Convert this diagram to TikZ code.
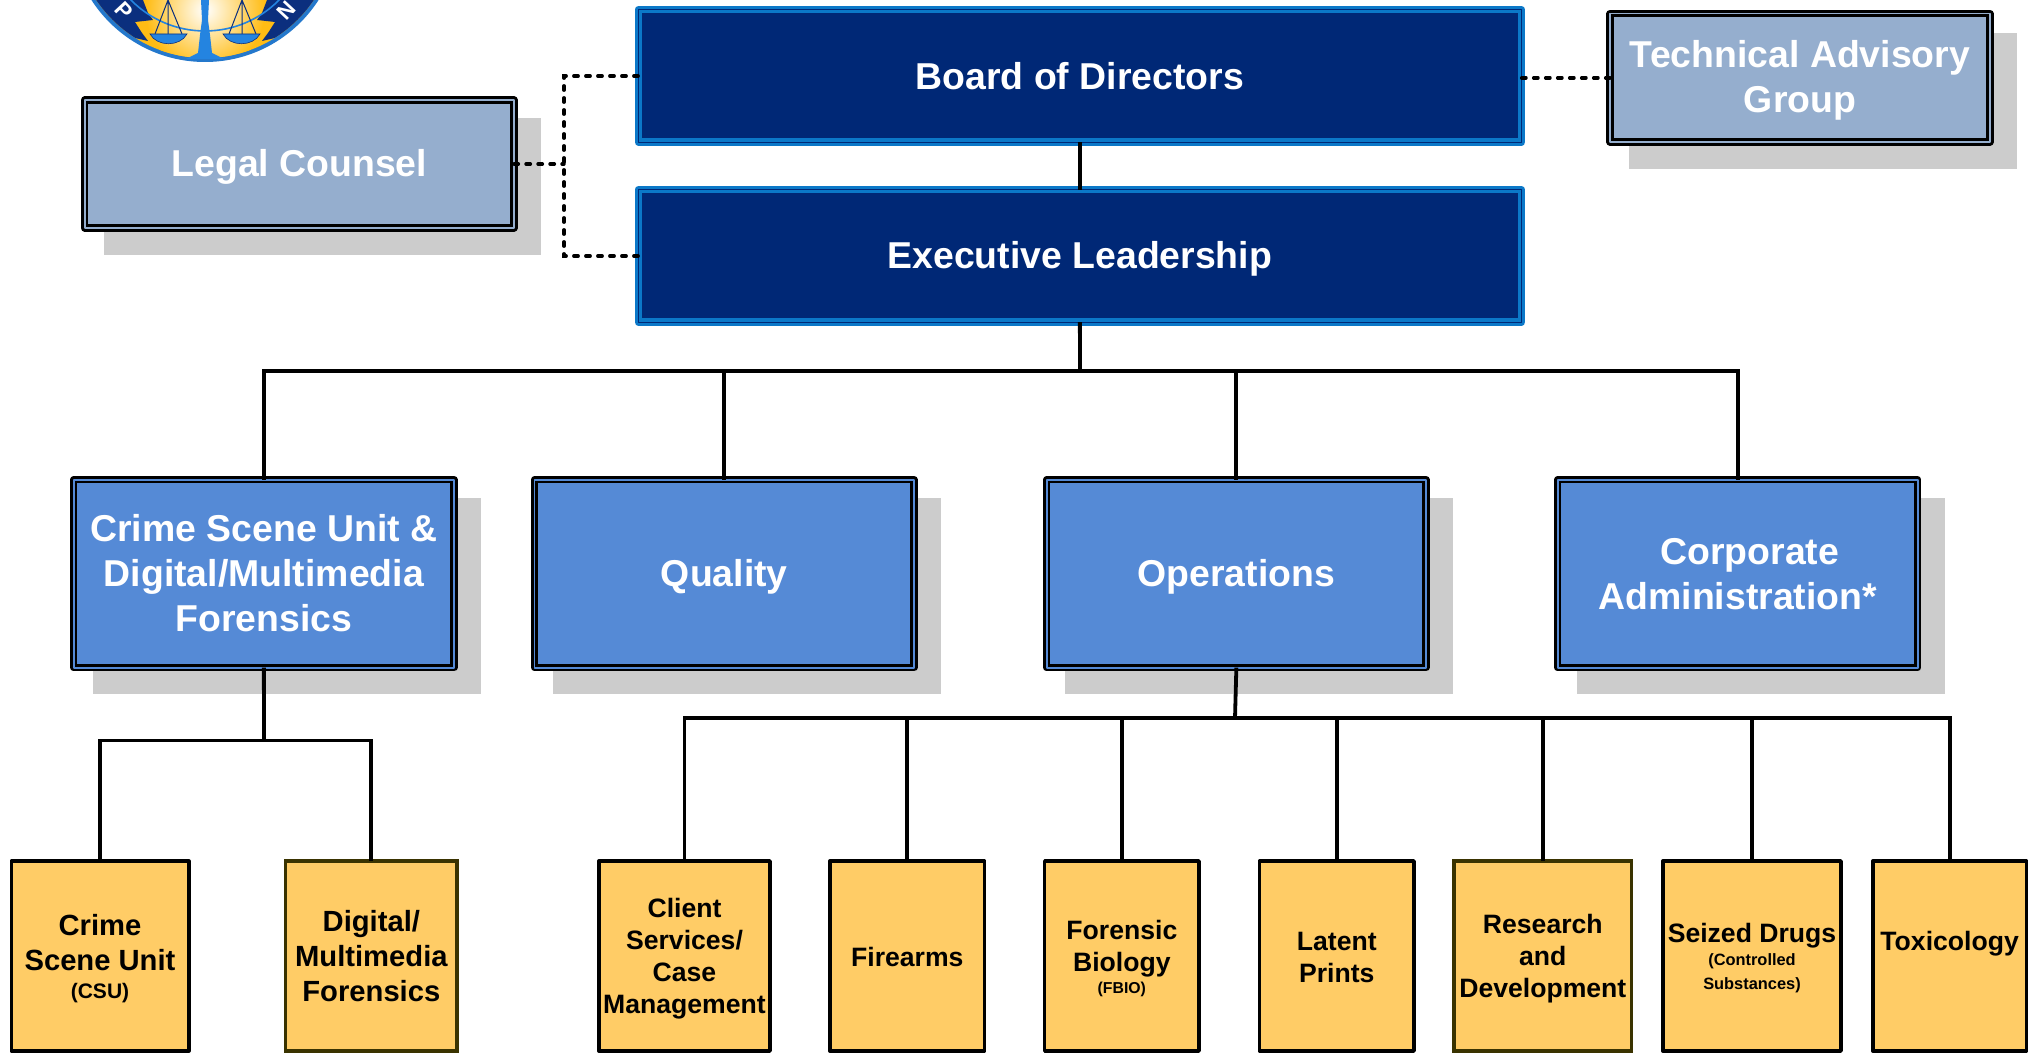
\documentclass[tikz,border=0pt]{standalone}
\usepackage{fontspec}
\setmainfont{Liberation Sans}
\usetikzlibrary{calc}
\definecolor{navyfill}{HTML}{002876}
\definecolor{navyedge}{HTML}{0B78C8}
\definecolor{midfill}{HTML}{558AD6}
\definecolor{paleblue}{HTML}{95AECE}
\definecolor{tan}{HTML}{FFCC66}
\definecolor{olive}{HTML}{3A3300}
\definecolor{shadowgrey}{HTML}{CCCCCC}
\definecolor{sealrim}{HTML}{2478CC}
\definecolor{sealgold}{HTML}{FFBC14}
\definecolor{sealnavy}{HTML}{0B2F7E}
\definecolor{sealblue}{HTML}{2484E0}
\newcommand\zs{\rule[-.18em]{0pt}{\dimexpr.9em+3pt\relax}}
\newcommand\bx[7]{\node[#1,minimum width={(#5-#3-\ins)*0.5pt},minimum height={(#6-#4-\ins)*0.5pt}] (#2) at ({(#3+#5)/2},{(#4+#6)/2}) {\zs #7\rule[-.18em]{0pt}{.5em}};}
\newcommand\shd[4]{\fill[shadowgrey] (#1,#2) rectangle (#3,#4);}
\newcommand\smalltxt[1]{\fontsize{#1}{11.5pt}\selectfont}
\tikzset{
  basebox/.style={inner sep=0pt,outer sep=0pt,align=center,font=\bfseries\fontsize{18.7pt}{22.5pt}\selectfont,line join=round},
  topbox/.style={basebox,text=white,draw=navyedge,double=navyfill,line width=1.6pt,double distance=0.5pt,fill=navyfill},
  sidebox/.style={basebox,text=white,draw=black,double=paleblue,line width=1.4pt,double distance=0.8pt,fill=paleblue},
  deptbox/.style={basebox,text=white,draw=black,double=midfill,line width=1.4pt,double distance=0.8pt,fill=midfill},
  unitbox/.style={basebox,text=black,draw=black,line width=1.7pt,fill=tan,font=\bfseries\fontsize{13.3pt}{16pt}\selectfont},
  bigunit/.style={unitbox,font=\bfseries\fontsize{14.6pt}{17.5pt}\selectfont},
  conn/.style={draw=black,line width=1.9pt},
  dotconn/.style={draw=black,line width=1.7pt,dash pattern=on 2.2pt off 3.8pt,line cap=round},
}
\begin{document}
\begin{tikzpicture}[x=0.5pt,y=-0.5pt]
\useasboundingbox (0,0) rectangle (2028,1053);
% seal
\begin{scope}
\clip (0,0) rectangle (400,80);
\coordinate (sealc) at (205,-73);
\fill[sealrim] (sealc) circle[radius=67.5pt];
\fill[sealgold] (sealc) circle[radius=65.5pt];
\begin{scope}
\clip (sealc) circle[radius=65.5pt];
\shade[inner color=white,outer color=sealgold] (205,10) circle[radius=30pt];
\fill[sealnavy] (80,0) -- (143,0) -- (148,13) -- (153,20) -- (135,22) -- (142,33) -- (148,41) -- (135,38) -- (80,38) -- cycle;
\fill[sealnavy] (330,0) -- (267,0) -- (262,13) -- (257,20) -- (275,22) -- (268,33) -- (262,41) -- (275,38) -- (330,38) -- cycle;
\draw[sealblue,line width=0.8pt] (sealc) circle[radius=52pt];
\end{scope}
\draw[sealnavy,line width=0.5pt] (168,0) -- (155,34) (168,0) -- (182,34) (168,0) -- (168,34);
\draw[sealnavy,line width=0.5pt] (242,0) -- (229,34) (242,0) -- (256,34) (242,0) -- (242,34);
\fill[sealblue,draw=sealnavy,line width=0.3pt] (150,34) -- (187,34) .. controls (180,47) and (157,47) .. (150,34) -- cycle;
\fill[sealblue,draw=sealnavy,line width=0.3pt] (223,34) -- (260,34) .. controls (253,47) and (230,47) .. (223,34) -- cycle;
\fill[sealblue] (201,0) -- (209,0) -- (208,20) -- (210,35) -- (212,53) -- (224,59) -- (186,59) -- (198,53) -- (200,35) -- (202,20) -- cycle;
\node[text=white,font=\bfseries\fontsize{11pt}{11pt}\selectfont,rotate=-47,inner sep=0pt] (sealp) at (124,11) {P};
\node[text=white,font=\bfseries\fontsize{11pt}{11pt}\selectfont,rotate=47,inner sep=0pt] (sealn) at (286,11) {N};
\end{scope}
% shadows
\shd{104}{118}{541}{255}
\shd{1629}{33}{2017}{169}
\shd{93}{498}{481}{694}
\shd{553}{498}{941}{694}
\shd{1065}{498}{1453}{694}
\shd{1577}{498}{1945}{694}
% top
\def\ins{7}
\bx{topbox}{board}{634.7}{6.3}{1525}{145.7}{Board of Directors}
\bx{topbox}{exec}{634.7}{186.3}{1525}{325.7}{Executive Leadership}
\def\ins{6}
\bx{sidebox}{legal}{81.7}{97}{517}{231}{Legal Counsel}
\bx{sidebox}{tech}{1607}{10.7}{1993}{145}{Technical Advisory\\Group}
\bx{deptbox}{csd}{70.7}{476.7}{457}{670.7}{Crime Scene Unit \&\\Digital/Multimedia\\Forensics}
\bx{deptbox}{quality}{531.6}{476.7}{917}{670.7}{Quality}
\bx{deptbox}{ops}{1043.7}{476.7}{1429}{670.7}{Operations}
\bx{deptbox}{corp}{1554.7}{476.7}{1920.7}{670.7}{\hspace*{12pt}Corporate\\Administration*}
\def\ins{2}
\bx{bigunit}{csu}{10.2}{860}{189.8}{1052}{Crime\\Scene Unit\\[-3.3pt]{\smalltxt{10.5pt}(CSU)}}
\bx{bigunit}{dmf}{284.7}{860}{458}{1052}{Digital/\\Multimedia\\Forensics}
\bx{unitbox}{client}{598}{860}{771}{1052}{Client\\Services/\\Case\\Management}
\bx{unitbox}{fire}{829}{860}{985.6}{1052}{Firearms}
\bx{unitbox}{fbio}{1043.7}{860}{1200}{1052}{Forensic\\Biology\\[-5pt]{\smalltxt{7.9pt}(FBIO)}}
\bx{unitbox}{latent}{1258.5}{860}{1415}{1052}{Latent\\Prints}
\bx{unitbox}{rnd}{1452.9}{860}{1632.7}{1052}{Research\\and\\Development}
\bx{unitbox}{drugs}{1662}{860}{1842}{1052}{Seized Drugs\\[-4.4pt]{\smalltxt{8.2pt}(Controlled}\\[-3.9pt]{\smalltxt{8.2pt}Substances)}}
\bx{unitbox}{tox}{1871.8}{860}{2027.5}{1052}{Toxicology\\\mbox{}}
\draw[olive,line width=1.7pt] (dmf.south west) rectangle (dmf.north east);
\draw[olive,line width=1.7pt] (rnd.south west) rectangle (rnd.north east);
% connectors
\coordinate (busa) at (1080,371);
\coordinate (busb) at (1235,718);
\coordinate (busc) at (264,740.5);
\coordinate (dotj) at (564,164);
\draw[conn] (board.south) -- (exec.north);
\draw[conn] (exec.south) -- (busa);
\draw[conn] (csd.north) -- (csd.north |- busa) -- (corp.north |- busa) -- (corp.north);
\draw[conn] (quality.north) -- (quality.north |- busa);
\draw[conn] (ops.north) -- (ops.north |- busa);
\draw[conn] (ops.south) -- (busb);
\draw[conn] (client.north) -- (client.north |- busb) -- (tox.north |- busb) -- (tox.north);
\foreach \u in {fire,fbio,latent,rnd,drugs}{\draw[conn] (\u.north) -- (\u.north |- busb);}
\draw[conn] (csd.south) -- (busc);
\draw[conn] (csu.north) -- (csu.north |- busc) -- (dmf.north |- busc) -- (dmf.north);
\draw[dotconn] (legal.east) -- (dotj);
\draw[dotconn] (board.west) -- (board.west -| dotj) -- (exec.west -| dotj) -- (exec.west);
\draw[dotconn] (tech.west) -- (tech.west -| board.east);
\end{tikzpicture}
\end{document}
